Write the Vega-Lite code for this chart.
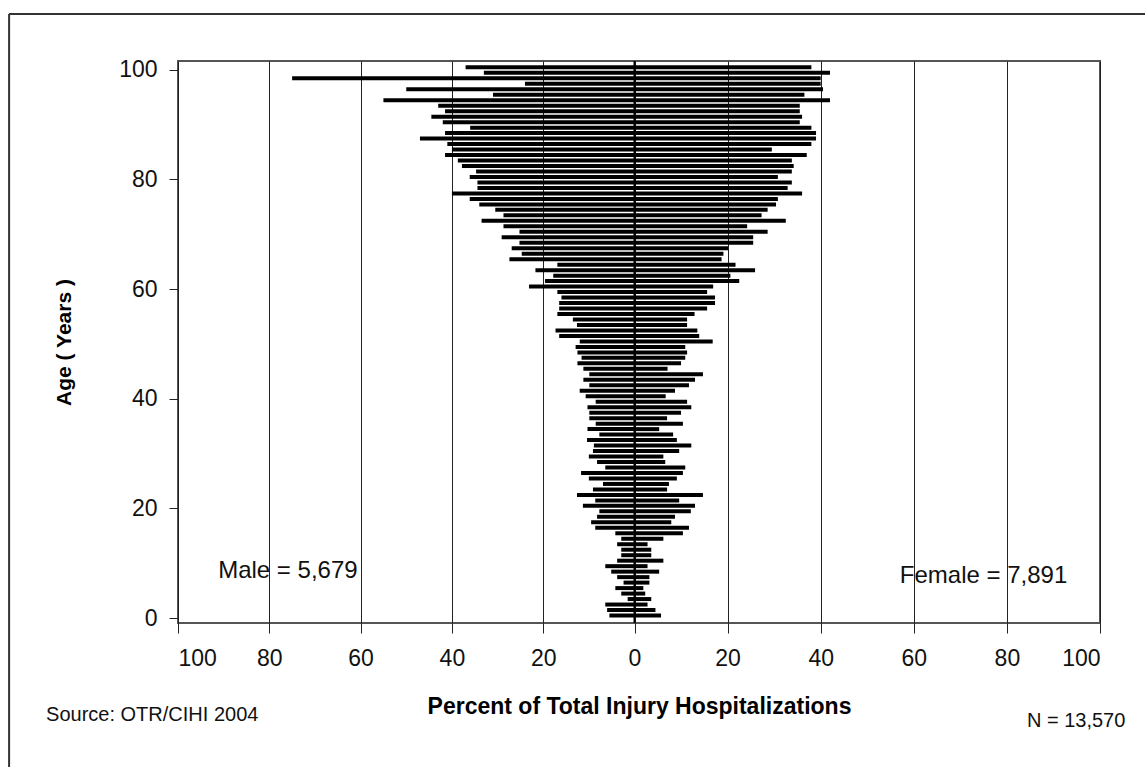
{
  "$schema": "https://vega.github.io/schema/vega-lite/v6.json",
  "width": 922,
  "height": 562,
  "autosize": "none",
  "padding": {"left": 178, "top": 61, "right": 45, "bottom": 144},
  "background": "white",
  "config": {
    "view": {"stroke": "#555555", "strokeWidth": 2},
    "font": "Liberation Sans"
  },
  "datasets": {
    "bars": [
      {"age":100,"sex":"Male","pct":-37},{"age":100,"sex":"Female","pct":38},
      {"age":99,"sex":"Male","pct":-33},{"age":99,"sex":"Female","pct":42},
      {"age":98,"sex":"Male","pct":-75},{"age":98,"sex":"Female","pct":40},
      {"age":97,"sex":"Male","pct":-24},{"age":97,"sex":"Female","pct":40},
      {"age":96,"sex":"Male","pct":-50},{"age":96,"sex":"Female","pct":40.5},
      {"age":95,"sex":"Male","pct":-31},{"age":95,"sex":"Female","pct":36.5},
      {"age":94,"sex":"Male","pct":-55},{"age":94,"sex":"Female","pct":42},
      {"age":93,"sex":"Male","pct":-43},{"age":93,"sex":"Female","pct":35.5},
      {"age":92,"sex":"Male","pct":-41.5},{"age":92,"sex":"Female","pct":35.5},
      {"age":91,"sex":"Male","pct":-44.5},{"age":91,"sex":"Female","pct":36},
      {"age":90,"sex":"Male","pct":-42},{"age":90,"sex":"Female","pct":35.5},
      {"age":89,"sex":"Male","pct":-36},{"age":89,"sex":"Female","pct":38},
      {"age":88,"sex":"Male","pct":-41.5},{"age":88,"sex":"Female","pct":39},
      {"age":87,"sex":"Male","pct":-47},{"age":87,"sex":"Female","pct":39},
      {"age":86,"sex":"Male","pct":-41},{"age":86,"sex":"Female","pct":38},
      {"age":85,"sex":"Male","pct":-40},{"age":85,"sex":"Female","pct":29.5},
      {"age":84,"sex":"Male","pct":-41.5},{"age":84,"sex":"Female","pct":37},
      {"age":83,"sex":"Male","pct":-38.7},{"age":83,"sex":"Female","pct":33.8},
      {"age":82,"sex":"Male","pct":-37.8},{"age":82,"sex":"Female","pct":34.2},
      {"age":81,"sex":"Male","pct":-34.7},{"age":81,"sex":"Female","pct":33.8},
      {"age":80,"sex":"Male","pct":-36.1},{"age":80,"sex":"Female","pct":30.8},
      {"age":79,"sex":"Male","pct":-34.4},{"age":79,"sex":"Female","pct":33.8},
      {"age":78,"sex":"Male","pct":-34.4},{"age":78,"sex":"Female","pct":32.9},
      {"age":77,"sex":"Male","pct":-40},{"age":77,"sex":"Female","pct":36},
      {"age":76,"sex":"Male","pct":-36.1},{"age":76,"sex":"Female","pct":30.8},
      {"age":75,"sex":"Male","pct":-34},{"age":75,"sex":"Female","pct":30.4},
      {"age":74,"sex":"Male","pct":-30.5},{"age":74,"sex":"Female","pct":28.6},
      {"age":73,"sex":"Male","pct":-28.7},{"age":73,"sex":"Female","pct":27.3},
      {"age":72,"sex":"Male","pct":-33.5},{"age":72,"sex":"Female","pct":32.5},
      {"age":71,"sex":"Male","pct":-28.7},{"age":71,"sex":"Female","pct":24.2},
      {"age":70,"sex":"Male","pct":-25.2},{"age":70,"sex":"Female","pct":28.6},
      {"age":69,"sex":"Male","pct":-29.1},{"age":69,"sex":"Female","pct":25.5},
      {"age":68,"sex":"Male","pct":-25.2},{"age":68,"sex":"Female","pct":25.5},
      {"age":67,"sex":"Male","pct":-26.9},{"age":67,"sex":"Female","pct":20.1},
      {"age":66,"sex":"Male","pct":-24.7},{"age":66,"sex":"Female","pct":19.1},
      {"age":65,"sex":"Male","pct":-27.4},{"age":65,"sex":"Female","pct":18.7},
      {"age":64,"sex":"Male","pct":-16.9},{"age":64,"sex":"Female","pct":21.7},
      {"age":63,"sex":"Male","pct":-21.7},{"age":63,"sex":"Female","pct":25.9},
      {"age":62,"sex":"Male","pct":-17.8},{"age":62,"sex":"Female","pct":20.6},
      {"age":61,"sex":"Male","pct":-19.6},{"age":61,"sex":"Female","pct":22.5},
      {"age":60,"sex":"Male","pct":-23.1},{"age":60,"sex":"Female","pct":16.9},
      {"age":59,"sex":"Male","pct":-16.9},{"age":59,"sex":"Female","pct":15.6},
      {"age":58,"sex":"Male","pct":-16},{"age":58,"sex":"Female","pct":17.3},
      {"age":57,"sex":"Male","pct":-16.5},{"age":57,"sex":"Female","pct":17.3},
      {"age":56,"sex":"Male","pct":-16.5},{"age":56,"sex":"Female","pct":15.6},
      {"age":55,"sex":"Male","pct":-16.9},{"age":55,"sex":"Female","pct":12.9},
      {"age":54,"sex":"Male","pct":-13.5},{"age":54,"sex":"Female","pct":11.3},
      {"age":53,"sex":"Male","pct":-12.6},{"age":53,"sex":"Female","pct":11.3},
      {"age":52,"sex":"Male","pct":-17.3},{"age":52,"sex":"Female","pct":13.5},
      {"age":51,"sex":"Male","pct":-16.5},{"age":51,"sex":"Female","pct":13.9},
      {"age":50,"sex":"Male","pct":-12},{"age":50,"sex":"Female","pct":16.8},
      {"age":49,"sex":"Male","pct":-12.9},{"age":49,"sex":"Female","pct":10.9},
      {"age":48,"sex":"Male","pct":-12.5},{"age":48,"sex":"Female","pct":11.3},
      {"age":47,"sex":"Male","pct":-11.6},{"age":47,"sex":"Female","pct":10.9},
      {"age":46,"sex":"Male","pct":-12.5},{"age":46,"sex":"Female","pct":10},
      {"age":45,"sex":"Male","pct":-11.2},{"age":45,"sex":"Female","pct":7.1},
      {"age":44,"sex":"Male","pct":-9.9},{"age":44,"sex":"Female","pct":14.7},
      {"age":43,"sex":"Male","pct":-11.2},{"age":43,"sex":"Female","pct":13},
      {"age":42,"sex":"Male","pct":-9.9},{"age":42,"sex":"Female","pct":11.7},
      {"age":41,"sex":"Male","pct":-12},{"age":41,"sex":"Female","pct":8.7},
      {"age":40,"sex":"Male","pct":-10.7},{"age":40,"sex":"Female","pct":6.7},
      {"age":39,"sex":"Male","pct":-8.5},{"age":39,"sex":"Female","pct":11.3},
      {"age":38,"sex":"Male","pct":-10.3},{"age":38,"sex":"Female","pct":12.2},
      {"age":37,"sex":"Male","pct":-9.9},{"age":37,"sex":"Female","pct":10},
      {"age":36,"sex":"Male","pct":-9.9},{"age":36,"sex":"Female","pct":7},
      {"age":35,"sex":"Male","pct":-8.5},{"age":35,"sex":"Female","pct":10.4},
      {"age":34,"sex":"Male","pct":-10.3},{"age":34,"sex":"Female","pct":5.3},
      {"age":33,"sex":"Male","pct":-7.7},{"age":33,"sex":"Female","pct":8.3},
      {"age":32,"sex":"Male","pct":-10.4},{"age":32,"sex":"Female","pct":9.1},
      {"age":31,"sex":"Male","pct":-8.9},{"age":31,"sex":"Female","pct":12.2},
      {"age":30,"sex":"Male","pct":-9.1},{"age":30,"sex":"Female","pct":9.6},
      {"age":29,"sex":"Male","pct":-10},{"age":29,"sex":"Female","pct":6.2},
      {"age":28,"sex":"Male","pct":-8.2},{"age":28,"sex":"Female","pct":6.6},
      {"age":27,"sex":"Male","pct":-6.4},{"age":27,"sex":"Female","pct":10.9},
      {"age":26,"sex":"Male","pct":-11.7},{"age":26,"sex":"Female","pct":10.4},
      {"age":25,"sex":"Male","pct":-10},{"age":25,"sex":"Female","pct":9.1},
      {"age":24,"sex":"Male","pct":-6.9},{"age":24,"sex":"Female","pct":7.4},
      {"age":23,"sex":"Male","pct":-9.1},{"age":23,"sex":"Female","pct":7},
      {"age":22,"sex":"Male","pct":-12.6},{"age":22,"sex":"Female","pct":14.7},
      {"age":21,"sex":"Male","pct":-8.6},{"age":21,"sex":"Female","pct":9.6},
      {"age":20,"sex":"Male","pct":-11.3},{"age":20,"sex":"Female","pct":13},
      {"age":19,"sex":"Male","pct":-7.7},{"age":19,"sex":"Female","pct":12.1},
      {"age":18,"sex":"Male","pct":-8.2},{"age":18,"sex":"Female","pct":8.7},
      {"age":17,"sex":"Male","pct":-9.5},{"age":17,"sex":"Female","pct":7.9},
      {"age":16,"sex":"Male","pct":-8.6},{"age":16,"sex":"Female","pct":11.7},
      {"age":15,"sex":"Male","pct":-4.2},{"age":15,"sex":"Female","pct":10.4},
      {"age":14,"sex":"Male","pct":-2.9},{"age":14,"sex":"Female","pct":6.2},
      {"age":13,"sex":"Male","pct":-3.8},{"age":13,"sex":"Female","pct":2.8},
      {"age":12,"sex":"Male","pct":-2.9},{"age":12,"sex":"Female","pct":3.6},
      {"age":11,"sex":"Male","pct":-2.9},{"age":11,"sex":"Female","pct":3.6},
      {"age":10,"sex":"Male","pct":-3.8},{"age":10,"sex":"Female","pct":6.2},
      {"age":9,"sex":"Male","pct":-6.4},{"age":9,"sex":"Female","pct":2.8},
      {"age":8,"sex":"Male","pct":-5.1},{"age":8,"sex":"Female","pct":5.3},
      {"age":7,"sex":"Male","pct":-3.8},{"age":7,"sex":"Female","pct":3.2},
      {"age":6,"sex":"Male","pct":-2.4},{"age":6,"sex":"Female","pct":3.2},
      {"age":5,"sex":"Male","pct":-4.2},{"age":5,"sex":"Female","pct":1.9},
      {"age":4,"sex":"Male","pct":-2.9},{"age":4,"sex":"Female","pct":2.3},
      {"age":3,"sex":"Male","pct":-1.5},{"age":3,"sex":"Female","pct":3.6},
      {"age":2,"sex":"Male","pct":-6.4},{"age":2,"sex":"Female","pct":2.8},
      {"age":1,"sex":"Male","pct":-6},{"age":1,"sex":"Female","pct":4.5},
      {"age":0,"sex":"Male","pct":-5.5},{"age":0,"sex":"Female","pct":5.7}
    ],
    "labels": [
      {"label": "Male = 5,679", "x": -91.2, "y": 8.6},
      {"label": "Female = 7,891", "x": 57.0, "y": 7.6}
    ],
    "notes": [
      {"label": "Source: OTR/CIHI 2004", "x": -128.9, "y": -17.7},
      {"label": "N = 13,570", "x": 84.3, "y": -18.8}
    ],
    "one": [{"id": 1}]
  },
  "layer": [
    {
      "data": {"name": "bars"},
      "mark": {"type": "bar", "orient": "horizontal", "height": 4, "yOffset": -2.5, "color": "black"},
      "encoding": {
        "x": {
          "field": "pct",
          "type": "quantitative",
          "scale": {"domain": [-100, 0, 100], "range": [0, 456.5, 922], "nice": false, "zero": false},
          "axis": {
            "values": [-100, -80, -60, -40, -20, 0, 20, 40, 60, 80, 100],
            "labelExpr": "abs(datum.value)",
            "grid": true,
            "gridColor": "#222222",
            "gridWidth": 1,
            "gridOpacity": 1,
            "domain": false,
            "ticks": true,
            "tickSize": 10,
            "tickColor": "#222222",
            "labelFontSize": 23,
            "labelColor": "#111111",
            "labelPadding": 14,
            "title": "Percent of Total Injury Hospitalizations",
            "titleFontSize": 23,
            "titleFontWeight": "bold",
            "titleColor": "#000000",
            "titlePadding": 25
          }
        },
        "y": {
          "field": "age",
          "type": "quantitative",
          "scale": {"domain": [0, 100.7], "nice": false, "zero": false},
          "axis": {
            "values": [0, 20, 40, 60, 80, 100],
            "grid": false,
            "domain": false,
            "ticks": true,
            "tickSize": 9,
            "tickColor": "#222222",
            "labelFontSize": 23,
            "labelColor": "#111111",
            "labelPadding": 12,
            "title": "Age ( Years )",
            "titleFontSize": 21,
            "titleFontWeight": "bold",
            "titleColor": "#000000",
            "titlePadding": 44
          }
        }
      }
    },
    {
      "data": {"name": "one"},
      "mark": {"type": "rule", "color": "black", "strokeWidth": 2},
      "encoding": {
        "x": {"datum": 0, "type": "quantitative"}
      }
    },
    {
      "data": {"name": "one"},
      "mark": {"type": "rule", "color": "#333333", "strokeWidth": 2, "clip": false},
      "encoding": {
        "x": {"datum": -137.0, "type": "quantitative"},
        "y": {"datum": 110.2, "type": "quantitative"},
        "y2": {"datum": -28}
      }
    },
    {
      "data": {"name": "one"},
      "mark": {"type": "rule", "color": "#333333", "strokeWidth": 2, "clip": false},
      "encoding": {
        "y": {"datum": 110.2, "type": "quantitative"},
        "x": {"datum": -137.0, "type": "quantitative"},
        "x2": {"datum": 112}
      }
    },
    {
      "data": {"name": "labels"},
      "mark": {"type": "text", "align": "left", "baseline": "middle", "fontSize": 24, "color": "#111111", "clip": false},
      "encoding": {
        "x": {"field": "x", "type": "quantitative"},
        "y": {"field": "y", "type": "quantitative"},
        "text": {"field": "label"}
      }
    },
    {
      "data": {"name": "notes"},
      "mark": {"type": "text", "align": "left", "baseline": "middle", "fontSize": 20, "color": "#111111", "clip": false},
      "encoding": {
        "x": {"field": "x", "type": "quantitative"},
        "y": {"field": "y", "type": "quantitative"},
        "text": {"field": "label"}
      }
    }
  ]
}
